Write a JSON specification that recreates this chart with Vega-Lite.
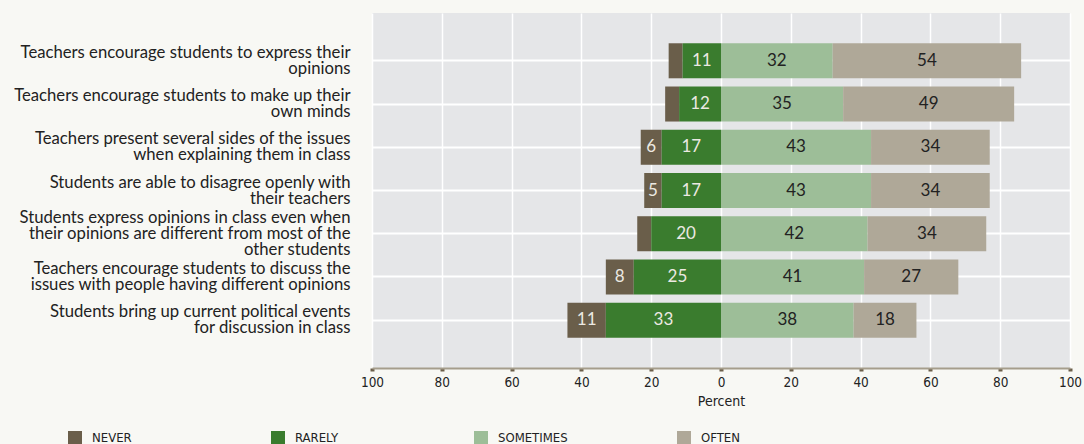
{
  "$schema": "https://vega.github.io/schema/vega-lite/v6.json",
  "width": 698,
  "height": 355,
  "autosize": {"type": "none"},
  "padding": {"left": 372, "top": 13, "right": 14, "bottom": 76},
  "background": "#f8f8f4",
  "config": {
    "view": {"fill": "#e5e6e8", "stroke": null}
  },
  "data": {
    "values": [
      {"question": "Teachers encourage students to express their|opinions", "category": "NEVER", "percent": 4},
      {"question": "Teachers encourage students to express their|opinions", "category": "RARELY", "percent": 11},
      {"question": "Teachers encourage students to express their|opinions", "category": "SOMETIMES", "percent": 32},
      {"question": "Teachers encourage students to express their|opinions", "category": "OFTEN", "percent": 54},
      {"question": "Teachers encourage students to make up their|own minds", "category": "NEVER", "percent": 4},
      {"question": "Teachers encourage students to make up their|own minds", "category": "RARELY", "percent": 12},
      {"question": "Teachers encourage students to make up their|own minds", "category": "SOMETIMES", "percent": 35},
      {"question": "Teachers encourage students to make up their|own minds", "category": "OFTEN", "percent": 49},
      {"question": "Teachers present several sides of the issues|when explaining them in class", "category": "NEVER", "percent": 6},
      {"question": "Teachers present several sides of the issues|when explaining them in class", "category": "RARELY", "percent": 17},
      {"question": "Teachers present several sides of the issues|when explaining them in class", "category": "SOMETIMES", "percent": 43},
      {"question": "Teachers present several sides of the issues|when explaining them in class", "category": "OFTEN", "percent": 34},
      {"question": "Students are able to disagree openly with|their teachers", "category": "NEVER", "percent": 5},
      {"question": "Students are able to disagree openly with|their teachers", "category": "RARELY", "percent": 17},
      {"question": "Students are able to disagree openly with|their teachers", "category": "SOMETIMES", "percent": 43},
      {"question": "Students are able to disagree openly with|their teachers", "category": "OFTEN", "percent": 34},
      {"question": "Students express opinions in class even when|their opinions are different from most of the|other students", "category": "NEVER", "percent": 4},
      {"question": "Students express opinions in class even when|their opinions are different from most of the|other students", "category": "RARELY", "percent": 20},
      {"question": "Students express opinions in class even when|their opinions are different from most of the|other students", "category": "SOMETIMES", "percent": 42},
      {"question": "Students express opinions in class even when|their opinions are different from most of the|other students", "category": "OFTEN", "percent": 34},
      {"question": "Teachers encourage students to discuss the|issues with people having different opinions", "category": "NEVER", "percent": 8},
      {"question": "Teachers encourage students to discuss the|issues with people having different opinions", "category": "RARELY", "percent": 25},
      {"question": "Teachers encourage students to discuss the|issues with people having different opinions", "category": "SOMETIMES", "percent": 41},
      {"question": "Teachers encourage students to discuss the|issues with people having different opinions", "category": "OFTEN", "percent": 27},
      {"question": "Students bring up current political events|for discussion in class", "category": "NEVER", "percent": 11},
      {"question": "Students bring up current political events|for discussion in class", "category": "RARELY", "percent": 33},
      {"question": "Students bring up current political events|for discussion in class", "category": "SOMETIMES", "percent": 38},
      {"question": "Students bring up current political events|for discussion in class", "category": "OFTEN", "percent": 18}
    ]
  },
  "transform": [
    {"calculate": "indexof(['RARELY','NEVER','SOMETIMES','OFTEN'], datum.category)", "as": "ord"},
    {"calculate": "(datum.category == 'NEVER' || datum.category == 'RARELY') ? -datum.percent : datum.percent", "as": "signed"},
    {"stack": "signed", "groupby": ["question"], "sort": [{"field": "ord", "order": "ascending"}], "as": ["x0", "x1"]},
    {"calculate": "(datum.x0 + datum.x1) / 2", "as": "mid"}
  ],
  "encoding": {
    "y": {
      "field": "question",
      "type": "nominal",
      "sort": null,
      "scale": {"paddingInner": 0.19, "paddingOuter": 0.7},
      "axis": {
        "title": null,
        "ticks": false,
        "domain": false,
        "grid": true,
        "gridColor": "#ffffff",
        "gridWidth": 2,
        "labelExpr": "split(datum.label, '|')",
        "labelFont": "Lato",
        "labelFontSize": 16.7,
        "labelLineHeight": 16,
        "labelPadding": 22,
        "labelColor": "#222222",
        "labelLimit": 400,
        "labelAlign": "right",
        "labelBaseline": "middle",
        "labelOffset": {
          "condition": {"test": "length(split(datum.label, '|')) == 3", "value": -16},
          "value": -8
        }
      }
    }
  },
  "layer": [
    {
      "mark": {"type": "bar"},
      "encoding": {
        "x": {
          "field": "x0",
          "type": "quantitative",
          "scale": {"domain": [-100, 100], "nice": false},
          "axis": {
            "values": [-100, -80, -60, -40, -20, 0, 20, 40, 60, 80, 100],
            "labelExpr": "abs(datum.value)",
            "title": "Percent",
            "grid": true,
            "gridColor": "#ffffff",
            "gridWidth": 1.5,
            "domainColor": "#a59d8c",
            "domainWidth": 2,
            "tickColor": "#6b5e4a",
            "tickWidth": 4,
            "tickSize": 3,
            "labelFlush": false,
            "labelOverlap": false,
            "labelFont": "DejaVu Sans Condensed",
            "labelFontSize": 13.5,
            "labelColor": "#222222",
            "labelPadding": 4,
            "titleFont": "DejaVu Sans Condensed",
            "titleFontSize": 14,
            "titleFontWeight": "normal",
            "titleColor": "#222222",
            "titlePadding": 6
          }
        },
        "x2": {"field": "x1"},
        "color": {
          "field": "category",
          "type": "nominal",
          "scale": {
            "domain": ["NEVER", "RARELY", "SOMETIMES", "OFTEN"],
            "range": ["#6a5e4a", "#3a7c2e", "#9dbe98", "#afa898"]
          },
          "legend": {
            "title": null,
            "orient": "none",
            "legendX": -304,
            "legendY": 418,
            "direction": "horizontal",
            "columns": 4,
            "gridAlign": "all",
            "columnPadding": 109,
            "padding": 0,
            "symbolType": "square",
            "symbolSize": 196,
            "symbolStrokeWidth": 0,
            "symbolOpacity": 1,
            "labelFont": "DejaVu Sans Condensed",
            "labelFontSize": 13,
            "labelColor": "#222222",
            "labelOffset": 10
          }
        }
      }
    },
    {
      "transform": [{"filter": "datum.percent >= 5"}],
      "mark": {"type": "text", "font": "Lato", "fontSize": 17, "baseline": "middle", "align": "center"},
      "encoding": {
        "x": {"field": "mid", "type": "quantitative"},
        "text": {"field": "percent", "type": "quantitative"},
        "color": {
          "condition": {"test": "datum.category == 'NEVER' || datum.category == 'RARELY'", "value": "#ece9e2"},
          "value": "#222222"
        }
      }
    },
    {
      "mark": {"type": "rule", "color": "#ffffff", "strokeWidth": 3},
      "encoding": {"x": {"datum": 0}}
    }
  ]
}
